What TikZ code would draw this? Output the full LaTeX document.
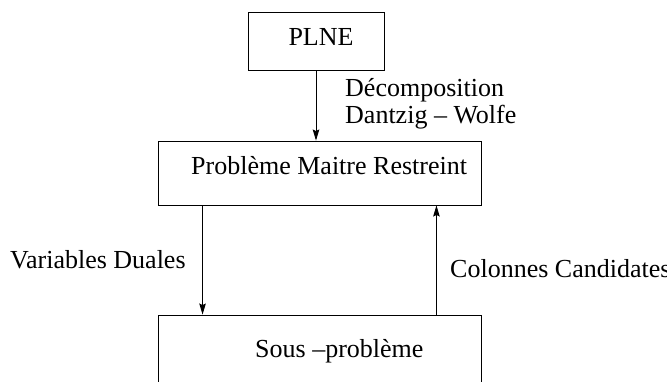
\documentclass[tikz,border=0pt]{standalone}
\usepackage{fontspec}
\setmainfont{Liberation Serif}
\usetikzlibrary{arrows.meta,calc}
\begin{document}
\begin{tikzpicture}[x=1pt,y=-1pt,
  box/.style={draw=black,line width=0.9pt,minimum width=#1,inner sep=0pt},
  txt/.style={inner sep=0pt,font=\fontsize{26}{27}\selectfont},
  arr/.style={line width=0.9pt,-{Stealth[length=11pt,width=6.5pt,inset=1.5pt]}}]
\path[use as bounding box,clip] (0,0) rectangle (667,381);
\node[box=136pt,minimum height=58pt] (plne) at (316,41) {};
\node[box=323pt,minimum height=64pt] (mid) at (319.5,173) {};
\node[box=323pt,minimum height=120pt] (low) at (319.5,375) {};
\node[txt,anchor=base] (tplne) at (321,45) {PLNE};
\node[txt,anchor=base west] (tmid) at (191,174) {Problème Maitre Restreint};
\node[txt,anchor=base west] (tlow) at (255,357) {Sous –problème};
\node[txt,anchor=base west] (dec1) at (345,96) {Décomposition};
\node[txt,anchor=base west] (dec2) at (345,123) {Dantzig – Wolfe};
\node[txt,anchor=base west] (vd) at (10,268) {Variables Duales};
\node[txt,anchor=base west] (cc) at (450,277) {Colonnes Candidates};
\coordinate (d1) at ($(mid.south west)+(45,0)$);
\coordinate (u1) at ($(mid.south east)+(-45,0)$);
\draw[arr] (plne.south) -- (plne.south |- mid.north);
\draw[arr] (d1) -- (d1 |- low.north);
\draw[arr] (u1 |- low.north) -- (u1);
\end{tikzpicture}
\end{document}
